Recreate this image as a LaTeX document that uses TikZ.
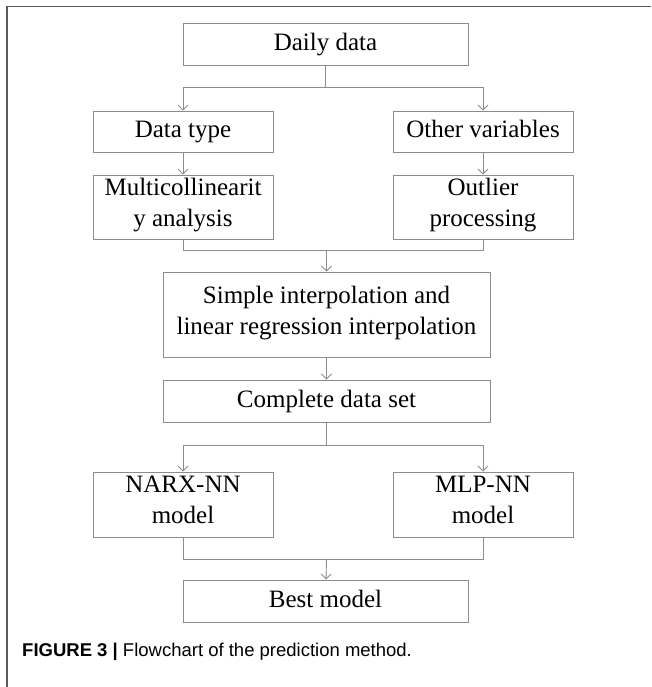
\documentclass[tikz,border=0pt]{standalone}
\usepackage{fontspec}
\setmainfont{Liberation Serif}
\newfontfamily\capfont{Liberation Sans}
\usetikzlibrary{arrows.meta}
\definecolor{boxgray}{RGB}{140,140,140}
\definecolor{framegray}{RGB}{90,90,90}

\begin{document}
\begin{tikzpicture}[x=1pt, y=1pt,
			box/.style={draw=boxgray, line width=0.9pt, rectangle, align=center, inner sep=0pt,
				font=\fontsize{25}{31}\selectfont,
				execute at begin node=\strut, execute at end node=\strut},
			link/.style={draw=boxgray, line width=0.9pt},
			arr/.style={link, -{Straight Barb[length=5pt, width=10pt]}},
		]
		\useasboundingbox (0, 0) rectangle (651, -687);

		% frame
		\draw[framegray, line width=1.4pt] (7, -687) -- (7, -6.5) -- (651, -6.5);

		\node[box, minimum width=285pt, minimum height=42pt] (daily)    at (325.5, -44)   {Daily data};
		\node[box, minimum width=180pt, minimum height=41pt] (dtype)    at (183, -131.5)  {Data type};
		\node[box, minimum width=180pt, minimum height=41pt] (other)    at (483, -131.5)  {Other variables};
		\node[box, minimum width=180pt, minimum height=64pt] (multi)    at (183, -207)    {Multicollinearit\\y analysis};
		\node[box, minimum width=180pt, minimum height=64pt] (outlier)  at (483, -207)    {Outlier\\processing};
		\node[box, minimum width=327pt, minimum height=85pt] (simple)   at (326.5, -314.5) {Simple interpolation and\\linear regression interpolation};
		\node[box, minimum width=327pt, minimum height=42pt] (complete) at (326.5, -401)  {Complete data set};
		\node[box, minimum width=180pt, minimum height=65pt] (narx)     at (183, -504.5)  {NARX-NN\\model};
		\node[box, minimum width=180pt, minimum height=65pt] (mlp)      at (483, -504.5)  {MLP-NN\\model};
		\node[box, minimum width=285pt, minimum height=42pt] (best)     at (325.5, -601)  {Best model};

		\coordinate (split1) at (325.5, -87);
		\coordinate (merge1) at (326.5, -250);
		\coordinate (split2) at (326.5, -445);
		\coordinate (merge2) at (326.5, -559);

		\draw[link] (daily) -- (split1);
		\draw[arr] (split1) -| (dtype);
		\draw[arr] (split1) -| (other);
		\draw[arr] (dtype) -- (multi);
		\draw[arr] (other) -- (outlier);
		\draw[link] (multi) |- (merge1);
		\draw[link] (outlier) |- (merge1);
		\draw[arr] (merge1) -- (simple);
		\draw[arr] (simple) -- (complete);
		\draw[link] (complete) -- (split2);
		\draw[arr] (split2) -| (narx);
		\draw[arr] (split2) -| (mlp);
		\draw[link] (narx) |- (merge2);
		\draw[link] (mlp) |- (merge2);
		\draw[arr] (merge2) -- (best);

		% caption
		\node[anchor=west, inner sep=0pt, font=\capfont\fontsize{18.5}{22}\selectfont] (caption) at (22, -652)
			{\textbf{FIGURE 3 |} Flowchart of the prediction method.};
	\end{tikzpicture}
\end{document}
